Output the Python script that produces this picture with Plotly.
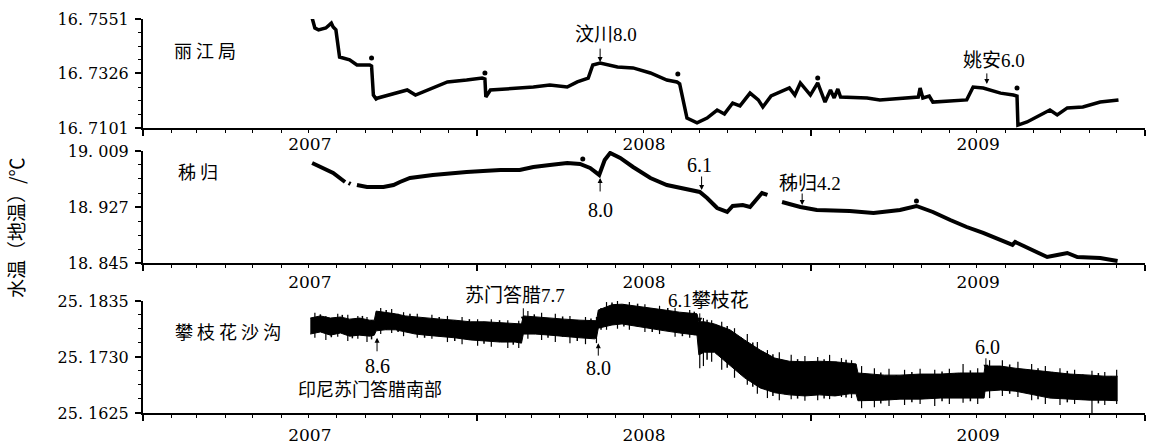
import plotly.graph_objects as go

# ---------------- data ----------------
# Panel 1: 丽江局
lj_dates = ["2007-07-05", "2007-07-08", "2007-07-12", "2007-07-20", "2007-07-26", "2007-07-28", "2007-07-31",
            "2007-08-04", "2007-08-15", "2007-08-23", "2007-09-06", "2007-09-08", "2007-09-10", "2007-09-13",
            "2007-09-15", "2007-09-28", "2007-10-17", "2007-10-26", "2007-11-08", "2007-11-30", "2007-12-21",
            "2008-01-07", "2008-01-10", "2008-01-11", "2008-01-16", "2008-02-03", "2008-03-03", "2008-03-21",
            "2008-04-09", "2008-04-20", "2008-05-02", "2008-05-07", "2008-05-15", "2008-06-03", "2008-06-20",
            "2008-07-09", "2008-07-27", "2008-08-07", "2008-08-10", "2008-08-18", "2008-08-29", "2008-09-09",
            "2008-09-20", "2008-09-28", "2008-10-07", "2008-10-15", "2008-10-26", "2008-11-04", "2008-11-09",
            "2008-11-18", "2008-11-28", "2008-12-08", "2008-12-14", "2008-12-20", "2008-12-31", "2009-01-08",
            "2009-01-16", "2009-01-22", "2009-01-26", "2009-01-30", "2009-02-02", "2009-03-03", "2009-03-17",
            "2009-04-08", "2009-04-28", "2009-04-30", "2009-05-03", "2009-05-10", "2009-05-14", "2009-06-20",
            "2009-06-27", "2009-07-08", "2009-07-27", "2009-08-10", "2009-08-14", "2009-08-15", "2009-08-25",
            "2009-09-19", "2009-09-27", "2009-10-08", "2009-10-25", "2009-11-13", "2009-12-03"]
lj_vals = [16.7555, 16.7514, 16.7506, 16.7514, 16.7534, 16.7518, 16.7506,
           16.7394, 16.7382, 16.7361, 16.7361, 16.7357, 16.7237, 16.7221,
           16.7225, 16.7237, 16.7258, 16.7237, 16.7258, 16.7291, 16.7299,
           16.7307, 16.7303, 16.7229, 16.7258, 16.7262, 16.7270, 16.7278,
           16.7270, 16.7291, 16.7307, 16.7361, 16.7369, 16.7353, 16.7349,
           16.7328, 16.7299, 16.7291, 16.7283, 16.7142, 16.7122, 16.7142,
           16.7175, 16.7159, 16.7204, 16.7192, 16.7245, 16.7217, 16.7188,
           16.7233, 16.7250, 16.7266, 16.7237, 16.7287, 16.7237, 16.7287,
           16.7208, 16.7258, 16.7225, 16.7262, 16.7229, 16.7225, 16.7217,
           16.7225, 16.7229, 16.7266, 16.7225, 16.7233, 16.7208, 16.7217,
           16.7270, 16.7266, 16.7245, 16.7237, 16.7233, 16.7113, 16.7126,
           16.7175, 16.7155, 16.7184, 16.7188, 16.7208, 16.7217]
lj_dot_dates = ["2007-09-08", "2008-01-10", "2008-08-08", "2009-01-08", "2009-08-14"]
lj_dot_vals = [16.7390, 16.7328, 16.7324, 16.7307, 16.7266]

# Panel 2: 秭归 (None = gap in record)
zg_dates = ["2007-07-05", "2007-07-14", "2007-07-28", "2007-08-10", "2007-08-12",
            "2007-08-14", "2007-08-16", "2007-08-19",
            "2007-08-23", "2007-09-03", "2007-09-21", "2007-10-02", "2007-10-09", "2007-10-20", "2007-11-14",
            "2007-12-03", "2007-12-21", "2008-01-08", "2008-01-27", "2008-02-17", "2008-03-03", "2008-03-21",
            "2008-04-09", "2008-04-23", "2008-05-04", "2008-05-14", "2008-05-20", "2008-05-26", "2008-06-06",
            "2008-06-20", "2008-07-09", "2008-07-27", "2008-08-14", "2008-09-01", "2008-09-09", "2008-09-20",
            "2008-10-01", "2008-10-07", "2008-10-18", "2008-10-26", "2008-11-08", "2008-11-14", "2008-11-20",
            "2008-11-30", "2008-12-20", "2009-01-07", "2009-02-12", "2009-03-10", "2009-04-08", "2009-04-26",
            "2009-05-14", "2009-06-02", "2009-06-20", "2009-07-08", "2009-07-27", "2009-08-09", "2009-08-12",
            "2009-09-01", "2009-09-16", "2009-09-27", "2009-10-08", "2009-10-19", "2009-11-13", "2009-12-02"]
zg_vals = [18.9914, 18.9856, 18.9768, 18.9636, None,
           18.9622, 18.9607, None,
           18.9592, 18.9563, 18.9563, 18.9592, 18.9636, 18.9695, 18.9739,
           18.9768, 18.9783, 18.9797, 18.9812, 18.9812, 18.9856, 18.9885,
           18.9914, 18.9900, 18.9841, 18.9739, 18.9958, 19.0061, 18.9988,
           18.9856, 18.9695, 18.9592, 18.9548, 18.9490, 18.9402, 18.9255,
           18.9197, 18.9285, 18.9299, 18.9270, 18.9475, 18.9446, None,
           18.9343, 18.9270, 18.9226, 18.9212, 18.9182, 18.9226, 18.9285,
           18.9197, 18.9080, 18.8977, 18.8890, 18.8787, 18.8714, 18.8758,
           18.8641, 18.8538, 18.8567, 18.8597, 18.8538, 18.8524, 18.8480]
zg_dot_dates = ["2008-04-26", "2009-04-26"]
zg_dot_vals = [18.9973, 18.9358]

# Panel 3: 攀枝花沙沟 (dense noisy record: body envelope + spikes)
pz_dates = ["2007-07-03", "2007-07-14", "2007-07-25", "2007-08-05", "2007-08-15", "2007-08-26", "2007-09-06",
            "2007-09-11", "2007-09-13", "2007-09-23", "2007-10-04", "2007-10-15", "2007-10-26", "2007-11-06",
            "2007-11-22", "2007-12-08", "2007-12-25", "2008-01-10", "2008-01-27", "2008-02-12", "2008-02-19",
            "2008-02-21", "2008-03-05", "2008-03-21", "2008-04-06", "2008-04-23", "2008-05-09", "2008-05-11",
            "2008-05-13", "2008-05-28", "2008-06-08", "2008-06-22", "2008-07-08", "2008-07-25", "2008-08-10",
            "2008-08-29", "2008-08-31", "2008-09-06", "2008-09-17", "2008-10-04", "2008-10-20", "2008-11-06",
            "2008-11-22", "2008-12-08", "2008-12-25", "2009-01-10", "2009-01-27", "2009-02-12", "2009-02-19",
            "2009-02-21", "2009-03-06", "2009-03-22", "2009-04-08", "2009-04-30", "2009-05-22", "2009-06-12",
            "2009-06-29", "2009-07-09", "2009-07-10", "2009-07-27", "2009-08-12", "2009-08-28", "2009-09-19",
            "2009-10-11", "2009-11-02", "2009-11-18", "2009-12-02"]
pz_upper = [25.1803, 25.1807, 25.1803, 25.1805, 25.1801, 25.1803, 25.1799,
            25.1799, 25.1816, 25.1814, 25.1811, 25.1807, 25.1805, 25.1803,
            25.1801, 25.1799, 25.1796, 25.1796, 25.1794, 25.1792, 25.1792,
            25.1807, 25.1805, 25.1803, 25.1801, 25.1799, 25.1798, 25.1798,
            25.1818, 25.1828, 25.1829, 25.1826, 25.1822, 25.1818, 25.1814,
            25.1811, 25.1796, 25.1796, 25.1792, 25.1781, 25.1762, 25.1743,
            25.1728, 25.1722, 25.1721, 25.1722, 25.1721, 25.1719, 25.1717,
            25.1700, 25.1698, 25.1696, 25.1696, 25.1698, 25.1698, 25.1700,
            25.1700, 25.1700, 25.1713, 25.1713, 25.1709, 25.1706, 25.1702,
            25.1698, 25.1696, 25.1694, 25.1694]
pz_lower = [25.1773, 25.1777, 25.1771, 25.1775, 25.1769, 25.1771, 25.1769,
            25.1771, 25.1779, 25.1781, 25.1781, 25.1777, 25.1773, 25.1771,
            25.1769, 25.1766, 25.1762, 25.1760, 25.1758, 25.1758, 25.1756,
            25.1773, 25.1773, 25.1771, 25.1768, 25.1766, 25.1764, 25.1766,
            25.1784, 25.1790, 25.1792, 25.1788, 25.1783, 25.1779, 25.1775,
            25.1771, 25.1734, 25.1739, 25.1739, 25.1715, 25.1691, 25.1672,
            25.1663, 25.1659, 25.1657, 25.1659, 25.1657, 25.1661, 25.1661,
            25.1648, 25.1648, 25.1649, 25.1651, 25.1651, 25.1653, 25.1653,
            25.1653, 25.1653, 25.1666, 25.1668, 25.1666, 25.1661, 25.1653,
            25.1651, 25.1649, 25.1649, 25.1648]
# large spikes
spike_dates = ["2007-07-08", "2007-07-20", "2007-08-02", "2007-08-13", "2007-08-24", "2007-09-03", "2007-09-18",
               "2007-09-30", "2007-10-13", "2007-10-28", "2007-11-13", "2007-11-30", "2007-12-16", "2008-01-02",
               "2008-01-17", "2008-02-04", "2008-02-16", "2008-02-26", "2008-03-12", "2008-03-27", "2008-04-12",
               "2008-04-29", "2008-05-11", "2008-05-22", "2008-06-03", "2008-06-16", "2008-07-03", "2008-07-19",
               "2008-08-05", "2008-08-21", "2008-09-01", "2008-09-05", "2008-09-14", "2008-09-25", "2008-10-09",
               "2008-10-23", "2008-11-03", "2008-11-14", "2008-11-27", "2008-12-10", "2008-12-25", "2009-01-08",
               "2009-01-21", "2009-02-03", "2009-02-14", "2009-02-25", "2009-03-11", "2009-03-27", "2009-04-13",
               "2009-04-30", "2009-05-16", "2009-06-01", "2009-06-16", "2009-07-02", "2009-07-15", "2009-07-29",
               "2009-08-15", "2009-08-30", "2009-09-14", "2009-09-30", "2009-10-16", "2009-11-04", "2009-11-18",
               "2009-12-01"]
spike_hi = [25.1813, 25.1807, 25.1811, 25.1809, 25.1807, 25.1805, 25.1822,
            25.1820, 25.1814, 25.1811, 25.1809, 25.1807, 25.1805, 25.1801,
            25.1801, 25.1799, 25.1798, 25.1816, 25.1813, 25.1811, 25.1807,
            25.1805, 25.1805, 25.1833, 25.1835, 25.1833, 25.1829, 25.1826,
            25.1822, 25.1818, 25.1799, 25.1803, 25.1799, 25.1796, 25.1784,
            25.1773, 25.1758, 25.1743, 25.1739, 25.1734, 25.1732, 25.1730,
            25.1734, 25.1728, 25.1724, 25.1713, 25.1709, 25.1708, 25.1706,
            25.1708, 25.1706, 25.1708, 25.1717, 25.1709, 25.1724, 25.1724,
            25.1721, 25.1717, 25.1713, 25.1709, 25.1706, 25.1704, 25.1702,
            25.1706]
spike_lo = [25.1766, 25.1762, 25.1768, 25.1760, 25.1764, 25.1758, 25.1773,
            25.1775, 25.1769, 25.1766, 25.1764, 25.1758, 25.1754, 25.1751,
            25.1749, 25.1747, 25.1747, 25.1764, 25.1762, 25.1758, 25.1756,
            25.1754, 25.1756, 25.1781, 25.1783, 25.1781, 25.1777, 25.1773,
            25.1768, 25.1766, 25.1709, 25.1713, 25.1721, 25.1706, 25.1691,
            25.1678, 25.1661, 25.1653, 25.1649, 25.1651, 25.1648, 25.1649,
            25.1651, 25.1655, 25.1653, 25.1634, 25.1636, 25.1638, 25.1640,
            25.1642, 25.1638, 25.1642, 25.1644, 25.1642, 25.1653, 25.1657,
            25.1655, 25.1649, 25.1642, 25.1640, 25.1642, 25.1625, 25.1640,
            25.1642]
# small spikes (fuzz on band edges)
fuzz_dates = ["2007-07-14", "2007-07-26", "2007-08-07", "2007-08-18", "2007-08-29", "2007-09-08", "2007-09-24",
              "2007-10-07", "2007-10-20", "2007-11-05", "2007-11-21", "2007-12-08", "2007-12-24", "2008-01-09",
              "2008-01-26", "2008-02-10", "2008-03-04", "2008-03-19", "2008-04-04", "2008-04-20", "2008-05-05",
              "2008-05-16", "2008-05-28", "2008-06-10", "2008-06-25", "2008-07-11", "2008-07-28", "2008-08-13",
              "2008-08-26", "2008-09-09", "2008-09-20", "2008-10-01", "2008-10-16", "2008-10-29", "2008-11-09",
              "2008-11-20", "2008-12-03", "2008-12-17", "2009-01-01", "2009-01-15", "2009-01-28", "2009-02-08",
              "2009-03-01", "2009-03-18", "2009-04-04", "2009-04-21", "2009-05-08", "2009-05-24", "2009-06-08",
              "2009-06-24", "2009-07-20", "2009-08-06", "2009-08-22", "2009-09-06", "2009-09-22", "2009-10-08",
              "2009-10-25", "2009-11-11", "2009-11-25"]
fuzz_hi = [25.1810, 25.1803, 25.1809, 25.1801, 25.1807, 25.1799, 25.1818,
           25.1811, 25.1811, 25.1803, 25.1805, 25.1799, 25.1801, 25.1796,
           25.1799, 25.1792, 25.1810, 25.1803, 25.1806, 25.1799, 25.1802,
           25.1822, 25.1832, 25.1829, 25.1830, 25.1821, 25.1822, 25.1813,
           25.1815, 25.1800, 25.1790, 25.1788, 25.1767, 25.1757, 25.1740,
           25.1735, 25.1724, 25.1726, 25.1722, 25.1726, 25.1721, 25.1725,
           25.1699, 25.1701, 25.1696, 25.1702, 25.1698, 25.1703, 25.1700,
           25.1705, 25.1713, 25.1716, 25.1707, 25.1709, 25.1702, 25.1704,
           25.1697, 25.1700, 25.1694]
fuzz_lo = [25.1777, 25.1767, 25.1775, 25.1765, 25.1771, 25.1763, 25.1781,
           25.1777, 25.1775, 25.1766, 25.1769, 25.1760, 25.1762, 25.1755,
           25.1758, 25.1753, 25.1773, 25.1766, 25.1768, 25.1760, 25.1764,
           25.1781, 25.1790, 25.1787, 25.1787, 25.1777, 25.1779, 25.1769,
           25.1771, 25.1725, 25.1735, 25.1710, 25.1697, 25.1674, 25.1670,
           25.1657, 25.1660, 25.1652, 25.1658, 25.1652, 25.1657, 25.1654,
           25.1648, 25.1643, 25.1650, 25.1645, 25.1652, 25.1647, 25.1653,
           25.1647, 25.1667, 25.1661, 25.1663, 25.1651, 25.1653, 25.1645,
           25.1650, 25.1643, 25.1648]

# tick labels
p1_ticks = [16.7101, 16.7326, 16.7551]
p1_text = ["16. 7101", "16. 7326", "16. 7551"]
p2_ticks = [18.845, 18.927, 19.009]
p2_text = ["18. 845", "18. 927", "19. 009"]
p3_ticks = [25.1625, 25.1730, 25.1835]
p3_text = ["25. 1625", "25. 1730", "25. 1835"]

# ---------------- figure ----------------
fig = go.Figure()
BLACK = "black"

fig.add_trace(go.Scatter(x=lj_dates, y=lj_vals, mode="lines", line=dict(color=BLACK, width=3.5),
                         xaxis="x", yaxis="y", showlegend=False))
fig.add_trace(go.Scatter(x=lj_dot_dates, y=lj_dot_vals, mode="markers", marker=dict(color=BLACK, size=5),
                         xaxis="x", yaxis="y", showlegend=False, cliponaxis=False))
fig.add_trace(go.Scatter(x=zg_dates, y=zg_vals, mode="lines", line=dict(color=BLACK, width=4),
                         connectgaps=False, xaxis="x2", yaxis="y2", showlegend=False))
fig.add_trace(go.Scatter(x=zg_dot_dates, y=zg_dot_vals, mode="markers", marker=dict(color=BLACK, size=5),
                         xaxis="x2", yaxis="y2", showlegend=False))
fig.add_trace(go.Scatter(x=pz_dates, y=pz_lower, mode="lines", line=dict(color=BLACK, width=1),
                         xaxis="x3", yaxis="y3", showlegend=False))
fig.add_trace(go.Scatter(x=pz_dates, y=pz_upper, mode="lines", line=dict(color=BLACK, width=1),
                         fill="tonexty", fillcolor=BLACK, xaxis="x3", yaxis="y3", showlegend=False))

def spikes(dates, his, los, width):
    sx, sy = [], []
    for d, hi, lo in zip(dates, his, los):
        sx += [d, d, None]
        sy += [lo, hi, None]
    fig.add_trace(go.Scatter(x=sx, y=sy, mode="lines", line=dict(color=BLACK, width=width),
                             xaxis="x3", yaxis="y3", showlegend=False))

spikes(spike_dates, spike_hi, spike_lo, 1.2)
spikes(fuzz_dates, fuzz_hi, fuzz_lo, 1.5)

dom1 = [0.7234, 1.0]
dom2 = [0.3807, 0.6650]
dom3 = [0.0, 0.2843]

def xax(anchor, standoff):
    return dict(domain=[0, 1], anchor=anchor, type="date", range=["2007-01-01", "2010-01-01"],
                showline=True, linecolor=BLACK, linewidth=2, mirror=False, automargin=False,
                ticks="outside", ticklen=6, tickwidth=1.5, tickcolor=BLACK,
                dtick="M12", tick0="2007-01-01", tickformat="%Y", ticklabelmode="period",
                ticklabelstandoff=standoff,
                minor=dict(dtick="M1", tick0="2007-01-01", ticks="outside", ticklen=3, tickwidth=1, tickcolor=BLACK),
                showgrid=False, zeroline=False,
                tickfont=dict(family="DejaVu Serif", size=17, color=BLACK))

def yax(anchor, dom, rng, tv, tt, minor_dt):
    return dict(domain=dom, anchor=anchor, range=rng, showline=True, linecolor=BLACK, linewidth=2,
                automargin=False,
                ticks="outside", ticklen=6, tickwidth=1.5, tickcolor=BLACK,
                tickmode="array", tickvals=tv, ticktext=tt, ticklabelstandoff=3,
                minor=dict(tick0=rng[0], dtick=minor_dt, ticks="outside", ticklen=3, tickwidth=1, tickcolor=BLACK),
                showgrid=False, zeroline=False,
                tickfont=dict(family="DejaVu Serif", size=16, color=BLACK))

fig.update_layout(
    width=1155, height=446,
    margin=dict(l=143, r=10, t=19, b=33),
    paper_bgcolor="white", plot_bgcolor="white",
    xaxis=xax("y", -6), xaxis2=xax("y2", -3), xaxis3=xax("y3", 0),
    yaxis=yax("x", dom1, [16.7101, 16.7551], p1_ticks, p1_text, 0.005625),
    yaxis2=yax("x2", dom2, [18.845, 19.009], p2_ticks, p2_text, 0.0205),
    yaxis3=yax("x3", dom3, [25.1625, 25.1835], p3_ticks, p3_text, 0.002625),
)

CJK = "Noto Sans CJK SC"
NUM = "Liberation Serif, Noto Sans CJK SC"

def label(text, x, y, xref, yref, fam, size):
    fig.add_annotation(text=text, x=x, y=y, xref=xref, yref=yref, showarrow=False,
                       font=dict(family=fam, size=size, color=BLACK), xanchor="center", yanchor="middle")

def arrow(x, y, xref, yref, ay):
    fig.add_annotation(text="", x=x, y=y, xref=xref, yref=yref, showarrow=True, ax=0, ay=ay,
                       arrowhead=2, arrowsize=1, arrowwidth=1, arrowcolor=BLACK, standoff=0)

# station names
label("丽 江 局", 0.0619, 0.716, "x domain", "y domain", CJK, 18)
label("秭 归", 0.0549, 0.817, "x2 domain", "y2 domain", CJK, 18)
label("攀 枝 花 沙 沟", 0.0848, 0.732, "x3 domain", "y3 domain", CJK, 18)

# panel 1 events
label("汶川8.0", "2008-05-21", 16.7489, "x", "y", NUM, 19)
arrow("2008-05-15", 16.7373, "x", "y", -15)
label("姚安6.0", "2009-07-20", 16.7378, "x", "y", NUM, 19)
arrow("2009-07-12", 16.7283, "x", "y", -12)

# panel 2 events
label("8.0", "2008-05-15", 18.9226, "x2", "y2", NUM, 20)
arrow("2008-05-15", 18.9695, "x2", "y2", 15)
label("6.1", "2008-09-01", 18.9885, "x2", "y2", NUM, 20)
arrow("2008-09-03", 18.9519, "x2", "y2", -15)
label("秭归4.2", "2008-12-31", 18.9621, "x2", "y2", NUM, 19)
arrow("2008-12-22", 18.9299, "x2", "y2", -13)

# panel 3 events
label("苏门答腊7.7", "2008-02-12", 1.045, "x3", "y3 domain", NUM, 19)
arrow("2008-02-21", 25.1796, "x3", "y3", -15)
label("8.6", "2007-09-14", 25.1713, "x3", "y3", NUM, 20)
arrow("2007-09-14", 25.1766, "x3", "y3", 15)
label("印尼苏门答腊南部", "2007-09-06", 25.1671, "x3", "y3", CJK, 18)
label("8.0", "2008-05-13", 25.1709, "x3", "y3", NUM, 20)
arrow("2008-05-13", 25.1756, "x3", "y3", 14)
label("6.1攀枝花", "2008-09-10", 1.0, "x3", "y3 domain", NUM, 19)
arrow("2008-09-01", 25.1794, "x3", "y3", -11)
label("6.0", "2009-07-13", 25.1749, "x3", "y3", NUM, 20)
arrow("2009-07-11", 25.1706, "x3", "y3", -13)

# y-axis title
fig.add_annotation(text="水温（地温）/℃", x=-0.1277, y=0.4695, xref="paper", yref="paper",
                   showarrow=False, textangle=-90, xanchor="center", yanchor="middle",
                   font=dict(family=CJK, size=19, color=BLACK))

fig.write_html("out.html")
